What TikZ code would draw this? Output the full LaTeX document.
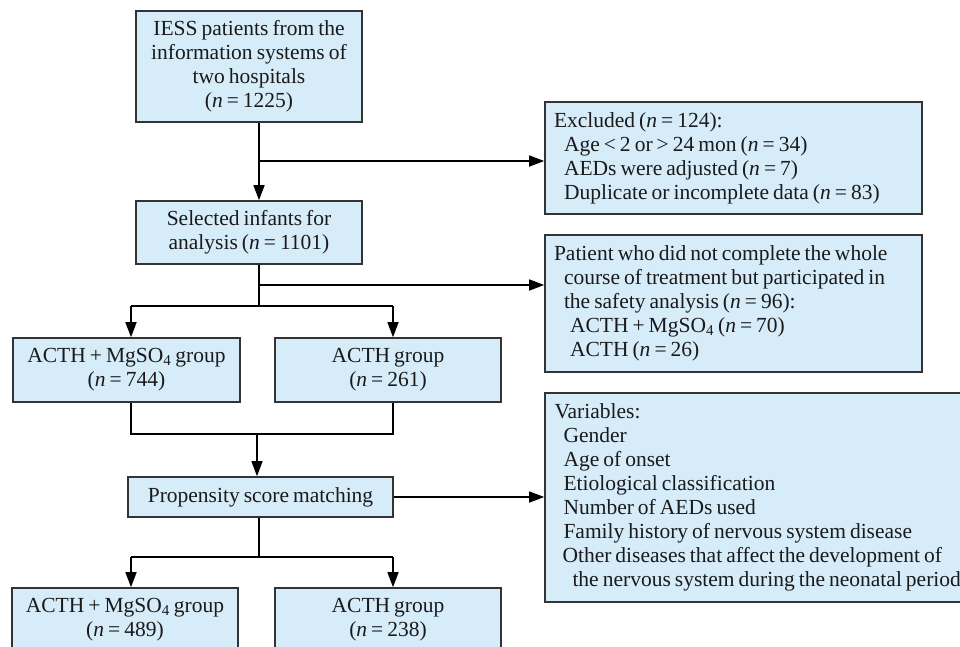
\documentclass[tikz,border=0pt]{standalone}
\usepackage{fontspec}
\setmainfont[WordSpace=0.75]{Liberation Serif}
\usetikzlibrary{arrows.meta,calc}
\definecolor{boxfill}{HTML}{D6ECF9}
\definecolor{boxline}{HTML}{333333}
\definecolor{txt}{HTML}{1A1A1A}
\newcommand{\nn}[1]{\textit{n} = #1}
\begin{document}
\begin{tikzpicture}[x=1pt,y=-1pt,
  box/.style={draw=boxline, line width=1.6pt, fill=boxfill, text=txt, inner sep=0pt,
    font=\fontsize{21.5}{24}\selectfont, align=center},
  lbox/.style={box, align=flush left},
  conn/.style={draw=black, line width=1.5pt},
  arr/.style={conn, -{Triangle[width=11pt,length=15pt]}}]
\clip (0,0) rectangle (960,646);
\fill[white] (0,0) rectangle (960,646);

\node[box, minimum width=226pt, minimum height=111pt] (b1) at (249,66.5)
  {IESS patients from the\\information systems of\\two hospitals\\(\nn{1225})};
\node[box, minimum width=226pt, minimum height=63pt] (b2) at (249,232.5)
  {Selected infants for\\analysis (\nn{1101})};
\node[lbox, minimum width=377pt, minimum height=112pt, text width=359pt] (excl) at (733.5,158)
  {Excluded (\nn{124}):\\
   \hspace*{10pt}Age < 2 or > 24 mon (\nn{34})\\
   \hspace*{10pt}AEDs were adjusted (\nn{7})\\
   \hspace*{10pt}Duplicate or incomplete data (\nn{83})};
\node[lbox, minimum width=377pt, minimum height=137pt, text width=359pt] (pat) at (733.5,303.5)
  {Patient who did not complete the whole\\
   \hspace*{10pt}course of treatment but participated in\\
   \hspace*{10pt}the safety analysis (\nn{96}):\\
   \hspace*{16pt}ACTH + MgSO\textsubscript{4} (\nn{70})\\
   \hspace*{16pt}ACTH (\nn{26})};
\node[box, minimum width=227pt, minimum height=64pt] (g1) at (126.5,370)
  {ACTH + MgSO\textsubscript{4} group\\(\nn{744})};
\node[box, minimum width=226pt, minimum height=64pt] (g2) at (388,370)
  {ACTH group\\(\nn{261})};
\node[box, minimum width=265pt, minimum height=40pt] (psm) at (260.5,497)
  {Propensity score matching};
\node[lbox, minimum width=430pt, minimum height=209pt, text width=411pt] (var) at (760,497.5)
  {Variables:\\
   \hspace*{9pt}Gender\\
   \hspace*{9pt}Age of onset\\
   \hspace*{9pt}Etiological classification\\
   \hspace*{9pt}Number of AEDs used\\
   \hspace*{9pt}Family history of nervous system disease\\
   \hspace*{8pt}\mbox{Other diseases that affect the development of}\\
   \hspace*{18pt}\mbox{the nervous system during the neonatal period}};
\node[box, minimum width=226pt, minimum height=64pt] (g3) at (125,620)
  {ACTH + MgSO\textsubscript{4} group\\(\nn{489})};
\node[box, minimum width=226pt, minimum height=64pt] (g4) at (388,620)
  {ACTH group\\(\nn{238})};

% connectors
\coordinate (c1) at (259,161);
\draw[conn] (b1.south -| c1) -- (c1);
\draw[arr] (c1) -- (b2.north -| c1);
\draw[arr] (c1) -- (excl.west |- c1);

\coordinate (c2) at (259,285);
\coordinate (c3) at (259,306);
\coordinate (s1) at (131,306);
\coordinate (s2) at (393,306);
\draw[conn] (b2.south -| c2) -- (c3);
\draw[arr] (c2) -- (pat.west |- c2);
\draw[conn] (s1) -- (s2);
\draw[arr] (s1) -- (g1.north -| s1);
\draw[arr] (s2) -- (g2.north -| s2);

\coordinate (m1) at (131,434);
\coordinate (m2) at (393,434);
\coordinate (c4) at (257,434);
\draw[conn] (g1.south -| m1) -- (m1) -- (m2) -- (g2.south -| m2);
\draw[arr] (c4) -- (psm.north -| c4);

\draw[arr] (psm.east) -- (var.west |- psm.east);

\coordinate (c5) at (259,557);
\coordinate (t1) at (131,557);
\coordinate (t2) at (393,557);
\draw[conn] (psm.south -| c5) -- (c5);
\draw[conn] (t1) -- (t2);
\draw[arr] (t1) -- (g3.north -| t1);
\draw[arr] (t2) -- (g4.north -| t2);
\end{tikzpicture}
\end{document}
